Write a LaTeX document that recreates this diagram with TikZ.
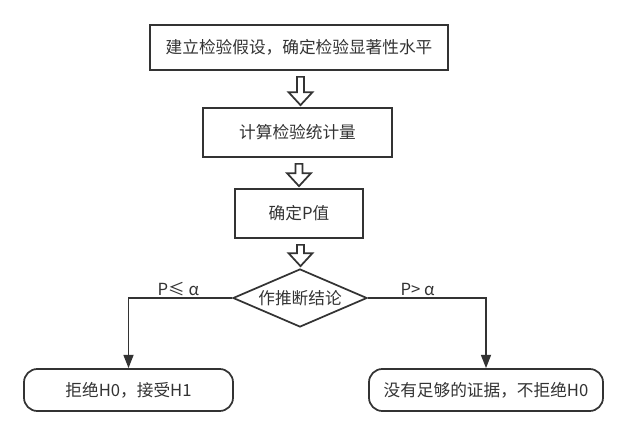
\documentclass[tikz,border=0pt]{standalone}
\usepackage{fontspec}
\setmainfont{Noto Sans CJK SC}
\usepackage{tikz}
\usetikzlibrary{shapes.geometric,arrows.meta,positioning,calc}
\definecolor{ink}{RGB}{51,51,51}

\begin{document}
\begin{tikzpicture}[x=0.75pt,y=0.75pt,
  box/.style={rectangle,draw=ink,line width=1.3pt,text=ink,inner sep=0pt,align=center,
              font=\fontsize{12.5}{15}\selectfont},
  term/.style={box,rounded corners=10pt,minimum height=31.5pt},
  dia/.style={box,diamond,shape aspect=2.3,minimum width=100.5pt,minimum height=43.5pt},
  fat/.style={draw=ink,line width=1.3pt,fill=white,line join=miter},
  arr/.style={-{Triangle[length=10pt,width=7.5pt]},line width=1.3pt,draw=ink},
  lab/.style={text=ink,inner sep=1pt,font=\fontsize{12.5}{15}\selectfont}]
\useasboundingbox (0,0) rectangle (627,-436);
\node[box,minimum width=223.5pt,minimum height=33.75pt] (setup) at (299,-47.5) {建立检验假设，确定检验显著性水平};
\node[box,minimum width=141.75pt,minimum height=36.75pt] (calc) at (297.5,-132.5) {计算检验统计量};
\node[box,minimum width=96pt,minimum height=36.75pt] (pval) at (299,-213.5) {确定P值};
\node[dia] (decide) at (300,-298) {作推断结论};
\node[term,minimum width=156.75pt] (rej) at (128.5,-390) {拒绝H0，接受H1};
\node[term,minimum width=175.5pt] (acc) at (486,-390) {没有足够的证据，不拒绝H0};
% hollow down arrows between the steps
\foreach \a/\b in {setup/calc,calc/pval,pval/decide}{
  \coordinate (T) at ($(\a.south)+(1.5,-6)$);
  \coordinate (P) at ($(\a.south |- \b.north)+(1.5,2)$);
  \draw[fat] ($(T)+(-3.5,0)$) -- ($(T)+(3.5,0)$) -- ($(P)+(3.5,13)$) -- ($(P)+(12,13)$)
    -- (P) -- ($(P)+(-12,13)$) -- ($(P)+(-3.5,13)$) -- cycle;
}
\draw[arr] (decide.west) -| node[lab,above,pos=0.26] {P≤ α} (rej.north);
\draw[arr] (decide.east) -| node[lab,above,pos=0.21] {P> α} (acc.north);
\end{tikzpicture}
\end{document}
